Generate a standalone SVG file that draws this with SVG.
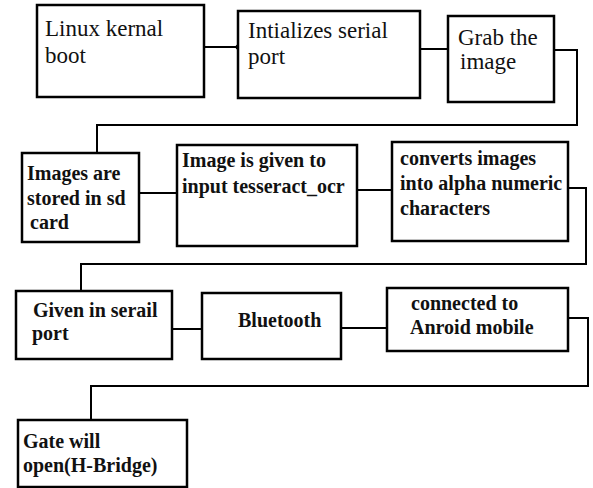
<svg xmlns="http://www.w3.org/2000/svg" width="593" height="488" viewBox="0 0 593 488">
<style>
.box{fill:#fff;stroke:#000;stroke-width:2.5}
.con{fill:none;stroke:#000;stroke-width:2}
.t1{font-size:23px;fill:#111}
.t2{font-size:20px;font-weight:bold;fill:#111}
</style>
<rect width="593" height="488" fill="#fff"/>
<g id="connectors">
<path class="con" d="M204,47 H238"/>
<circle cx="238" cy="47" r="2.5" fill="#000"/>
<path class="con" d="M420,49 H448"/>
<path class="con" d="M554,50 H577 V125 H97 V153"/>
<path class="con" d="M139,193 H177"/>
<path class="con" d="M357,190 H392"/>
<path class="con" d="M568,188 H586 V264 H81 V291"/>
<path class="con" d="M172,329 H202"/>
<path class="con" d="M341,328 H387"/>
<path class="con" d="M568,318 H588 V386 H91 V420"/>
</g>
<g font-family="Liberation Serif, DejaVu Serif, serif">
<g id="n1"><rect class="box" x="37" y="5" width="167" height="92"/>
<text class="t1" x="45" y="36">Linux kernal</text><text class="t1" x="45" y="63">boot</text></g>
<g id="n2"><rect class="box" x="238" y="11" width="182" height="87"/>
<text class="t1" x="248" y="38">Intializes serial</text><text class="t1" x="248" y="64">port</text></g>
<g id="n3"><rect class="box" x="448" y="16" width="106" height="86"/>
<text class="t1" x="458" y="45">Grab the</text><text class="t1" x="460" y="69">image</text></g>
<g id="n4"><rect class="box" x="22" y="153" width="117" height="89"/>
<text class="t2" x="27" y="180">Images are</text><text class="t2" x="27" y="205">stored in sd</text><text class="t2" x="30" y="229">card</text></g>
<g id="n5"><rect class="box" x="177" y="145" width="180" height="101"/>
<text class="t2" x="182" y="167">Image is given to</text><text class="t2" x="182" y="193">input tesseract_ocr</text></g>
<g id="n6"><rect class="box" x="392" y="142" width="176" height="99"/>
<text class="t2" x="400" y="165">converts images</text><text class="t2" x="400" y="190">into alpha numeric</text><text class="t2" x="400" y="215">characters</text></g>
<g id="n7"><rect class="box" x="16" y="291" width="156" height="68"/>
<text class="t2" x="33" y="317">Given in serail</text><text class="t2" x="32" y="340">port</text></g>
<g id="n8"><rect class="box" x="202" y="293" width="139" height="66"/>
<text class="t2" x="238" y="327">Bluetooth</text></g>
<g id="n9"><rect class="box" x="387" y="288" width="181" height="63"/>
<text class="t2" x="411" y="310">connected to</text><text class="t2" x="410" y="334">Anroid mobile</text></g>
<g id="n10"><rect class="box" x="18" y="420" width="169" height="67"/>
<text class="t2" x="23" y="448">Gate will</text><text class="t2" x="23" y="472">open(H-Bridge)</text></g>
</g>
</svg>
